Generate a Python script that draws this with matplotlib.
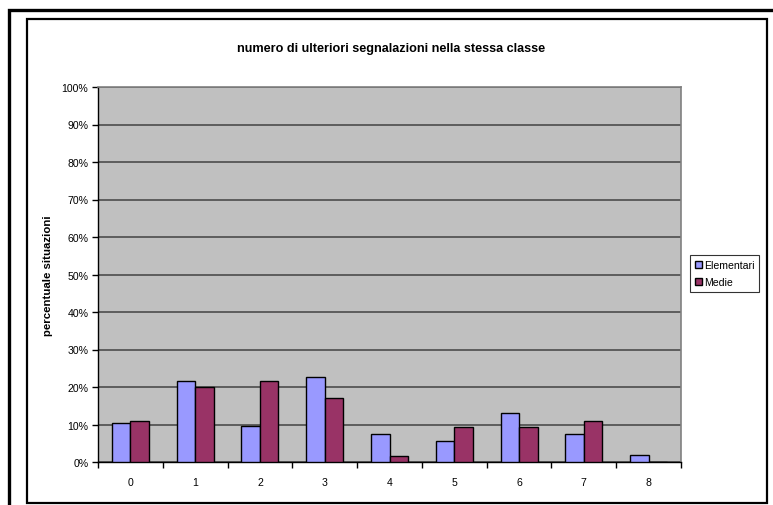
import matplotlib as mpl
mpl.use('Agg')
import matplotlib.pyplot as plt
import numpy as np
from matplotlib.patches import Rectangle

plt.rcParams['font.family'] = ['Liberation Sans', 'DejaVu Sans']

categorie = ['0', '1', '2', '3', '4', '5', '6', '7', '8']
elementari = [10.4, 21.7, 9.5, 22.6, 7.6, 5.7, 13.2, 7.6, 1.9]
medie = [10.9, 20.0, 21.7, 17.0, 1.7, 9.3, 9.3, 10.9, 0.0]
tick_y = [0, 10, 20, 30, 40, 50, 60, 70, 80, 90, 100]

W, H = 773, 506
fig = plt.figure(figsize=(W / 100, H / 100), dpi=100)

# cornici esterne (stile foglio Excel)
def px_rect(x0, y0, x1, y1, lw):
    return Rectangle((x0 / W, 1 - y1 / H), (x1 - x0) / W, (y1 - y0) / H,
                     transform=fig.transFigure, fill=False, edgecolor='black',
                     linewidth=lw, zorder=0)

fig.add_artist(px_rect(9, 11, 800, 540, 2.4))
fig.add_artist(px_rect(27, 20, 767, 504, 1.6))

ax = fig.add_axes([98 / W, 1 - 463 / H, (681 - 98) / W, (463 - 88) / H])
ax.set_facecolor('#C0C0C0')

x = np.arange(len(categorie))
w = 1 / 3.5
ax.bar(x - w / 2, elementari, w, color='#9999FF', edgecolor='black',
       linewidth=1.0, label='Elementari', zorder=3)
ax.bar(x + w / 2, medie, w, color='#993366', edgecolor='black',
       linewidth=1.0, label='Medie', zorder=3)

ax.set_xlim(-0.5, len(categorie) - 0.5)
ax.set_ylim(0, 100)
ax.set_yticks(tick_y)
ax.set_yticklabels(['%d%%' % t for t in tick_y])
ax.yaxis.grid(True, color='#555555', linewidth=1.3, zorder=1)
ax.set_axisbelow(True)

ax.set_xticks(x)
ax.set_xticklabels(categorie)
ax.set_xticks(np.arange(-0.5, len(categorie)), minor=True)
ax.tick_params(axis='x', which='major', length=0, pad=11, labelsize=7.6)
ax.tick_params(axis='x', which='minor', length=4, direction='out', width=1)
ax.tick_params(axis='y', length=4, width=1, direction='out', labelsize=7.6, pad=3)

for s in ['left', 'bottom']:
    ax.spines[s].set_color('black')
    ax.spines[s].set_linewidth(1)
for s in ['top', 'right']:
    ax.spines[s].set_color('#808080')
    ax.spines[s].set_linewidth(1.2)

ax.set_ylabel('percentuale situazioni', fontsize=8.2, fontweight='bold', labelpad=6)
fig.text(391 / W, 1 - 49 / H, 'numero di ulteriori segnalazioni nella stessa classe',
         ha='center', va='center', fontsize=9.1, fontweight='bold')

leg = ax.legend(loc='center left', bbox_to_anchor=(690 / W, 1 - 274.5 / H),
                bbox_transform=fig.transFigure, fontsize=7.6, frameon=True,
                fancybox=False, handlelength=0.65, handleheight=0.65,
                handletextpad=0.2, borderpad=0.45, labelspacing=0.7,
                borderaxespad=0)
leg.get_frame().set_edgecolor('black')
leg.get_frame().set_linewidth(0.8)

plt.savefig('out.png', dpi=100)
plt.close()
